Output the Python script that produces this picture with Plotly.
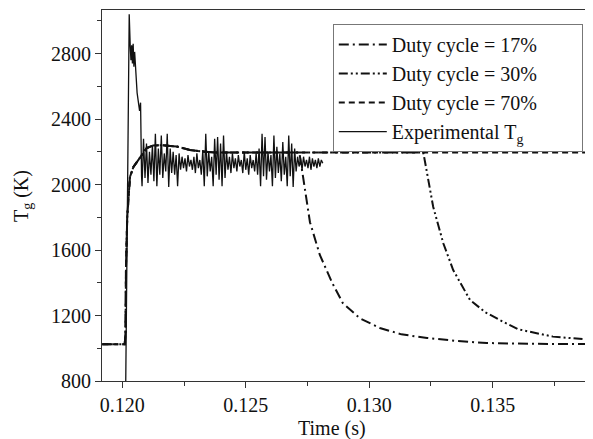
import plotly.graph_objects as go

# ---- data ----
# common model rise (shared by all duty cycles until heater switches off)
rise_t = [0.11919, 0.12010, 0.12013, 0.12015, 0.12020, 0.12031, 0.12045, 0.12072,
          0.12099, 0.12124, 0.12160, 0.12220, 0.12274, 0.12315, 0.12375]
rise_T = [1025, 1025, 1100, 1500, 1800, 2046, 2107, 2168,
          2223, 2238, 2240, 2232, 2211, 2203, 2196]

# duty cycle 17 % : decay after switch-off
d17_t = [0.12717, 0.12760, 0.12800, 0.12850, 0.12893, 0.12962, 0.13043, 0.13130,
         0.13234, 0.13350, 0.13476, 0.13650, 0.13910]
d17_T = [2196, 1770, 1570, 1400, 1276, 1183, 1124, 1085, 1063, 1045, 1032, 1027, 1025]

# duty cycle 30 % : decay after switch-off
d30_t = [0.13219, 0.13259, 0.13300, 0.13340, 0.13408, 0.13470, 0.13529, 0.13603,
         0.13744, 0.13910]
d30_T = [2196, 1864, 1641, 1478, 1295, 1220, 1172, 1116, 1071, 1050]

# duty cycle 70 % : stays on to the end
d70_t = [0.13910]
d70_T = [2196]

# experimental Tg: ignition peak
exp_peak_t = [0.12014, 0.12028, 0.12032, 0.12035, 0.12038, 0.12041, 0.12044, 0.12047,
              0.12050, 0.12053, 0.12060, 0.12070, 0.12074, 0.12078]
exp_peak_T = [800, 3040, 2850, 2760, 2850, 2740, 2860, 2720,
              2810, 2720, 2560, 2450, 2500, 2050]

# experimental Tg: sampled oscillating plateau
exp_t0 = 0.12080
exp_dt = 0.00006
exp_T = [1990, 2280, 2040, 2250, 2010, 2200, 2060, 2240, 2020, 2310,
         1990, 2220, 2060, 2300, 2040, 2190, 2080, 2310, 1985, 2220,
         2070, 2200, 2060, 2180, 1990, 2190, 2090, 2170, 2100, 2160,
         2080, 2180, 2110, 2150, 2090, 2170, 2070, 2190, 2100, 2150,
         2060, 2210, 1990, 2310, 2050, 2200, 2080, 2170, 1990, 2280,
         2060, 2290, 2030, 2250, 1990, 2300, 2040, 2200, 2090, 2170,
         2070, 2190, 2100, 2160, 2080, 2180, 2110, 2150, 2070, 2200,
         2090, 2160, 2060, 2180, 2100, 2150, 2080, 2190, 2060, 2220,
         1990, 2310, 2050, 2290, 2030, 2200, 2080, 2180, 1990, 2300,
         2040, 2230, 2070, 2190, 2020, 2260, 2060, 2170, 1990, 2300,
         2050, 2250, 1985, 2220, 2080, 2170, 2110, 2160, 2090, 2170,
         2110, 2150, 2100, 2170, 2090, 2160, 2110, 2150, 2100, 2160,
         2110, 2150, 2130]

x_ticks = [0.120, 0.125, 0.130, 0.135]
x_ticktext = ["0.120", "0.125", "0.130", "0.135"]
y_ticks = [800, 1200, 1600, 2000, 2400, 2800]

labels = ["Duty cycle = 17%", "Duty cycle = 30%", "Duty cycle = 70%",
          "Experimental T<sub>g</sub>"]

# ---- build series ----
t17 = rise_t + d17_t
T17 = rise_T + d17_T
t30 = rise_t + d30_t
T30 = rise_T + d30_T
t70 = rise_t + d70_t
T70 = rise_T + d70_T
exp_plateau_t = [exp_t0 + i * exp_dt for i in range(len(exp_T))]
texp = exp_peak_t + exp_plateau_t
Texp = exp_peak_T + exp_T

FONT = "Liberation Serif"
BLACK = "#111111"

fig = go.Figure()
fig.add_trace(go.Scatter(x=t17, y=T17, mode="lines", name=labels[0],
                         line=dict(color=BLACK, width=2, dash="10px,4px,2px,4px")))
fig.add_trace(go.Scatter(x=t30, y=T30, mode="lines", name=labels[1],
                         line=dict(color=BLACK, width=2, dash="9px,3px,2px,3px,2px,3px")))
fig.add_trace(go.Scatter(x=t70, y=T70, mode="lines", name=labels[2],
                         line=dict(color=BLACK, width=2, dash="6px,4px")))
fig.add_trace(go.Scatter(x=texp, y=Texp, mode="lines", name=labels[3],
                         line=dict(color=BLACK, width=1.3)))

axis_common = dict(showline=True, linecolor="#333333", linewidth=1,
                   ticks="outside", ticklen=6, tickwidth=1, tickcolor="#333333",
                   showgrid=False, zeroline=False, automargin=False,
                   tickfont=dict(family=FONT, size=20, color=BLACK))

fig.update_xaxes(range=[0.119178, 0.139022], tickvals=x_ticks, ticktext=x_ticktext,
                 mirror=True,
                 minor=dict(dtick=0.0025, tick0=0.12, ticklen=4, tickwidth=1,
                            tickcolor="#333333", ticks="outside", showgrid=False),
                 **axis_common)
fig.update_yaxes(range=[800, 3066], tickvals=y_ticks,
                 minor=dict(dtick=200, tick0=800, ticklen=4, tickwidth=1,
                            tickcolor="#333333", ticks="outside", showgrid=False),
                 **axis_common)

# the page body has an 8px margin, so the figure is 8px smaller than the window
fig.update_layout(
    width=585, height=431,
    margin=dict(l=94, r=1, t=2, b=58, autoexpand=False),
    paper_bgcolor="white", plot_bgcolor="white",
    font=dict(family=FONT, size=20, color=BLACK),
    showlegend=True,
    legend=dict(orientation="h", x=0.471, xanchor="left", y=0.962, yanchor="top",
                bgcolor="white", bordercolor="#777777", borderwidth=1,
                font=dict(family=FONT, size=20, color=BLACK),
                itemwidth=48, entrywidth=185, entrywidthmode="pixels",
                tracegroupgap=0),
    annotations=[
        dict(text="Time (s)", x=0.469, y=-0.1267, xref="paper", yref="paper",
             xanchor="center", yanchor="middle", showarrow=False,
             font=dict(family=FONT, size=20, color=BLACK)),
        dict(text="T<sub>g</sub> (K)", x=-0.161, y=0.4987, xref="paper", yref="paper",
             xanchor="center", yanchor="middle", textangle=-90, showarrow=False,
             font=dict(family=FONT, size=20, color=BLACK)),
    ],
)

fig.write_html("out.html")
